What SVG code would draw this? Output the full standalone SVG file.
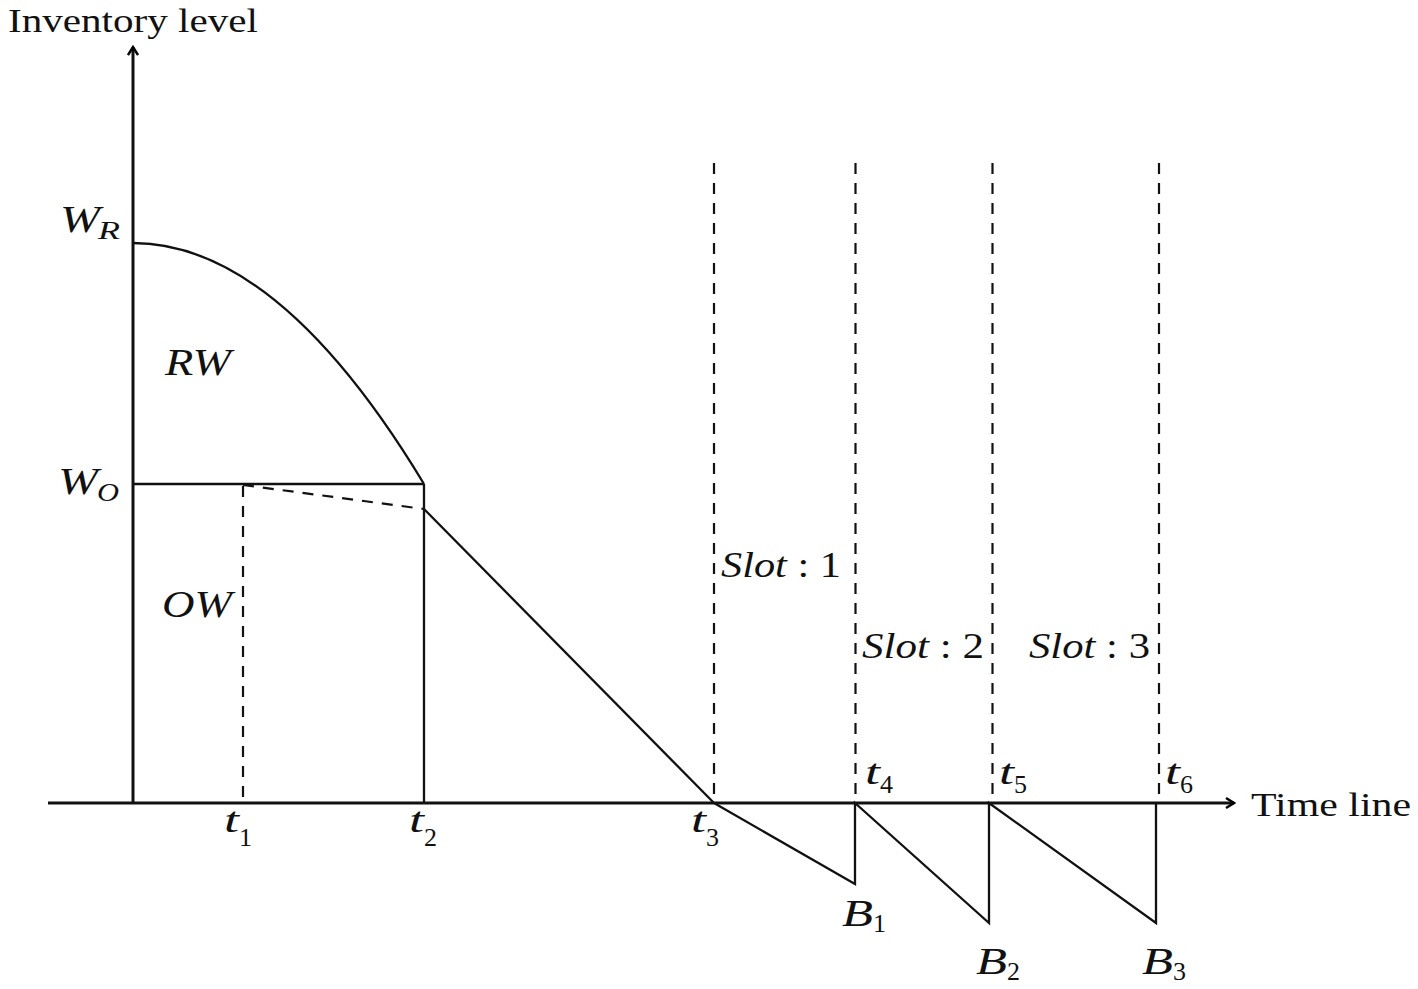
<svg xmlns="http://www.w3.org/2000/svg" width="1418" height="989" viewBox="0 0 1418 989">
<defs>
<marker id="arr" viewBox="0 0 12 12" refX="10" refY="6" markerWidth="12" markerHeight="12" markerUnits="userSpaceOnUse" orient="auto">
<path d="M2,1 L10,6 L2,11" fill="none" stroke="#000" stroke-width="2.4"/>
</marker>
<style>
.ax{stroke:#111;stroke-width:3;fill:none}
.ln{stroke:#111;stroke-width:2.3;fill:none}
.ds{stroke:#111;stroke-width:2.2;fill:none;stroke-dasharray:11 9}
.rm{font-family:"Liberation Serif","DejaVu Serif",serif;fill:#111}
.it{font-family:"Liberation Serif","DejaVu Serif",serif;font-style:italic;fill:#111}
</style>
</defs>
<rect width="1418" height="989" fill="#fff"/>
<g id="axes">
<line class="ax" x1="133" y1="803" x2="133" y2="47" marker-end="url(#arr)"/>
<line class="ax" x1="48" y1="803" x2="1234" y2="803" marker-end="url(#arr)"/>
<text class="rm" x="8" y="32" font-size="33" textLength="250" lengthAdjust="spacingAndGlyphs">Inventory level</text>
<text class="rm" x="1251" y="816" font-size="33" textLength="160" lengthAdjust="spacingAndGlyphs">Time line</text>
</g>
<g id="connectors">
<path class="ln" d="M133,243 Q278.5,243 424,484"/>
<line class="ln" x1="133" y1="484" x2="424" y2="484"/>
<line class="ln" x1="424" y1="484" x2="424" y2="803"/>
<line class="ds" x1="243" y1="485" x2="424" y2="509"/>
<line class="ds" x1="243" y1="486" x2="243" y2="803"/>
<line class="ln" x1="424" y1="509" x2="714" y2="803"/>
<polyline class="ln" points="714,803 855,884 855,803 989,923 989,803 1156,923 1156,803"/>
<line class="ds" x1="714" y1="163" x2="714" y2="803"/>
<line class="ds" x1="855.5" y1="163" x2="855.5" y2="803"/>
<line class="ds" x1="992.5" y1="163" x2="992.5" y2="803"/>
<line class="ds" x1="1159" y1="163" x2="1159" y2="803"/>
</g>
<g id="labels">
<text class="it" x="60" y="232" font-size="37" textLength="40" lengthAdjust="spacingAndGlyphs">W</text>
<text class="it" x="98" y="239" font-size="26" textLength="22" lengthAdjust="spacingAndGlyphs">R</text>
<text class="it" x="58" y="494" font-size="37" textLength="40" lengthAdjust="spacingAndGlyphs">W</text>
<text class="it" x="97" y="501" font-size="26" textLength="22" lengthAdjust="spacingAndGlyphs">O</text>
<text class="it" x="165" y="375" font-size="37" textLength="66" lengthAdjust="spacingAndGlyphs">RW</text>
<text class="it" x="162" y="617" font-size="37" textLength="70" lengthAdjust="spacingAndGlyphs">OW</text>
<text class="it" x="224" y="832" font-size="35" textLength="15" lengthAdjust="spacingAndGlyphs">t</text><text class="rm" x="239" y="846" font-size="26">1</text>
<text class="it" x="409" y="832" font-size="35" textLength="15" lengthAdjust="spacingAndGlyphs">t</text><text class="rm" x="424" y="846" font-size="26">2</text>
<text class="it" x="691" y="832" font-size="35" textLength="15" lengthAdjust="spacingAndGlyphs">t</text><text class="rm" x="706" y="846" font-size="26">3</text>
<text class="it" x="865" y="784" font-size="35" textLength="15" lengthAdjust="spacingAndGlyphs">t</text><text class="rm" x="880" y="793" font-size="26">4</text>
<text class="it" x="999" y="784" font-size="35" textLength="15" lengthAdjust="spacingAndGlyphs">t</text><text class="rm" x="1014" y="793" font-size="26">5</text>
<text class="it" x="1165" y="784" font-size="35" textLength="15" lengthAdjust="spacingAndGlyphs">t</text><text class="rm" x="1180" y="793" font-size="26">6</text>
<text class="it" x="842" y="926" font-size="37" textLength="31" lengthAdjust="spacingAndGlyphs">B</text><text class="rm" x="873" y="932" font-size="26">1</text>
<text class="it" x="976" y="974" font-size="37" textLength="31" lengthAdjust="spacingAndGlyphs">B</text><text class="rm" x="1007" y="980" font-size="26">2</text>
<text class="it" x="1142" y="974" font-size="37" textLength="31" lengthAdjust="spacingAndGlyphs">B</text><text class="rm" x="1173" y="980" font-size="26">3</text>
<text class="it" x="721" y="577" font-size="36" textLength="120" lengthAdjust="spacingAndGlyphs">Slot<tspan font-style="normal"> : 1</tspan></text>
<text class="it" x="862" y="658" font-size="36" textLength="122" lengthAdjust="spacingAndGlyphs">Slot<tspan font-style="normal"> : 2</tspan></text>
<text class="it" x="1029" y="658" font-size="36" textLength="121" lengthAdjust="spacingAndGlyphs">Slot<tspan font-style="normal"> : 3</tspan></text>
</g>
</svg>
